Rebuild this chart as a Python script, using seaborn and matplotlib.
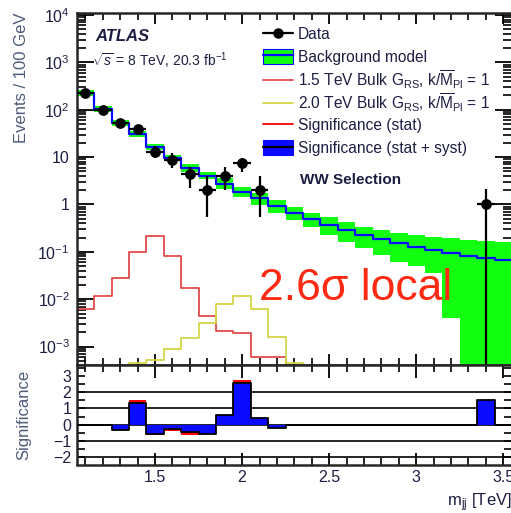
import numpy as np
import pandas as pd
import matplotlib
matplotlib.use("Agg")
import matplotlib.pyplot as plt
import seaborn as sns
from matplotlib.lines import Line2D
from matplotlib.patches import Patch
from matplotlib.ticker import FixedLocator, MultipleLocator, NullFormatter, FixedFormatter

# ---------------- data ----------------
bin_centers = [1.1, 1.2, 1.3, 1.4, 1.5, 1.6, 1.7, 1.8, 1.9, 2.0, 2.1, 2.2, 2.3,
               2.4, 2.5, 2.6, 2.7, 2.8, 2.9, 3.0, 3.1, 3.2, 3.3, 3.4, 3.5]
bin_width = 0.1

bkg = [229, 105, 53, 31, 16.5, 9.7, 5.9, 4.0, 2.7, 1.85, 1.38, 0.93, 0.66,
       0.50, 0.37, 0.29, 0.23, 0.19, 0.155, 0.127, 0.11, 0.095, 0.082, 0.074, 0.068]
bkg_hi = [265, 122, 61.5, 36, 19.1, 11.2, 7.2, 4.9, 3.65, 2.35, 1.76, 1.25, 0.89,
          0.66, 0.55, 0.43, 0.336, 0.29, 0.25, 0.228, 0.206, 0.197, 0.179, 0.17, 0.162]
bkg_lo = [198, 91, 46, 27, 14.3, 8.4, 4.9, 3.5, 2.14, 1.45, 0.98, 0.66, 0.47,
          0.336, 0.228, 0.162, 0.121, 0.086, 0.061, 0.05, 0.035, 0.004, 1e-6, 1e-6, 1e-6]

sig15 = [0.0062, 0.012, 0.028, 0.10, 0.22, 0.081, 0.017, 0.0045, 0.0021, 0.0019,
         0.0006, 0.0006, 0, 0, 0, 0, 0, 0, 0, 0, 0, 0, 0, 0, 0]
sig20 = [0, 0, 0, 0.00045, 0.00053, 0.00089, 0.00155, 0.0031, 0.0081, 0.0117,
         0.0062, 0.0016, 0.00046, 0, 0, 0, 0, 0, 0, 0, 0, 0, 0, 0, 0]

data_x = [1.1, 1.2, 1.3, 1.4, 1.5, 1.6, 1.7, 1.8, 1.9, 2.0, 2.1, 3.4]
data_y = [225, 100, 53, 40, 13, 8.7, 4.3, 2.0, 4.0, 7.6, 2.0, 1.0]
data_err_lo = [15, 10, 7, 6.3, 3.6, 2.9, 2.1, 1.45, 2.0, 2.8, 1.45, 1.0]
data_err_hi = [15, 10, 7.5, 6.5, 4.0, 3.4, 2.0, 1.9, 2.2, 2.0, 1.9, 1.1]

signif_stat = [0, 0, -0.3, 1.53, -0.65, -0.37, -0.62, -0.56, 0.62, 2.75, 0.41, -0.2,
               0, 0, 0, 0, 0, 0, 0, 0, 0, 0, 0, 1.5, 0]
signif_syst = [0, 0, -0.3, 1.36, -0.57, -0.25, -0.48, -0.56, 0.62, 2.59, 0.41, -0.2,
               0, 0, 0, 0, 0, 0, 0, 0, 0, 0, 0, 1.5, 0]

y_tick_vals = [1e-3, 1e-2, 1e-1, 1, 10, 1e2, 1e3, 1e4]
y_tick_labels = [r"$10^{-3}$", r"$10^{-2}$", r"$10^{-1}$", "1", "10",
                 r"$10^{2}$", r"$10^{3}$", r"$10^{4}$"]
x_tick_vals = [1.5, 2.0, 2.5, 3.0, 3.5]
x_tick_labels = ["1.5", "2", "2.5", "3", "3.5"]
sig_tick_vals = [-2, -1, 0, 1, 2, 3]
sig_tick_labels = ["\u22122", "\u22121", "0", "1", "2", "3"]

legend_labels = [
    "Data",
    "Background model",
    r"1.5 TeV Bulk G$_{\mathrm{RS}}$, k/$\overline{\mathrm{M}}_{\mathrm{Pl}}$ = 1",
    r"2.0 TeV Bulk G$_{\mathrm{RS}}$, k/$\overline{\mathrm{M}}_{\mathrm{Pl}}$ = 1",
    "Significance (stat)",
    "Significance (stat + syst)",
]

hist_df = pd.DataFrame({"m": bin_centers, "bkg": bkg, "sig15": sig15, "sig20": sig20,
                        "s_syst": signif_syst, "s_stat": signif_stat})

# ---------------- style ----------------
sns.set_style("ticks")
plt.rcParams["font.family"] = ["Liberation Sans", "DejaVu Sans"]
plt.rcParams["mathtext.fontset"] = "custom"
plt.rcParams["mathtext.rm"] = "Liberation Sans"
plt.rcParams["mathtext.it"] = "Liberation Sans:italic"
plt.rcParams["mathtext.bf"] = "Liberation Sans:bold"

TXT = "#1e1e44"
LAB = "#4d5b7a"
GREEN = "#12ff12"
BLUE = "#0a0aff"
RED_SIG = "#e04a4a"
YELLOW = "#d4d44a"

edges_arr = np.concatenate([np.array(bin_centers) - bin_width / 2,
                            [bin_centers[-1] + bin_width / 2]])
edges = [float(e) for e in edges_arr]

fig = plt.figure(figsize=(5.11, 5.13), dpi=100)
W, H = 511.0, 513.0
left_px, right_px = 76.7, 512.0
top_px, mid_px, bot_px = 13.0, 364.5, 464.5
ax = fig.add_axes([left_px / W, 1 - mid_px / H, (right_px - left_px) / W, (mid_px - top_px) / H])
ax2 = fig.add_axes([left_px / W, 1 - bot_px / H, (right_px - left_px) / W, (bot_px - mid_px) / H],
                   sharex=ax)

ax.set_yscale("log")

# background band
ax.stairs(bkg_hi, edges_arr, baseline=bkg_lo, fill=True, color=GREEN, lw=0, zorder=1)
# background line
sns.histplot(data=hist_df, x="m", weights="bkg", bins=edges, element="step", fill=False,
             color=BLUE, lw=1.6, ax=ax, zorder=3)
# signals
sns.histplot(data=hist_df, x="m", weights="sig15", bins=edges, element="step", fill=False,
             color=RED_SIG, lw=1.3, ax=ax, zorder=2)
sns.histplot(data=hist_df, x="m", weights="sig20", bins=edges, element="step", fill=False,
             color=YELLOW, lw=1.3, ax=ax, zorder=2)
# data
ax.errorbar(data_x, data_y, yerr=[data_err_lo, data_err_hi], xerr=bin_width / 2,
            fmt="none", ecolor="black", elinewidth=1.6, capsize=0, zorder=5)
sns.scatterplot(x=data_x, y=data_y, color="black", s=60, edgecolor="black",
                linewidth=0, ax=ax, zorder=6)

ax.set_xlim(edges[0], edges[-1])
ax.set_ylim(4.2e-4, 1.1e4)
ax.set_xlabel("")
ax.set_ylabel("")

ax.yaxis.set_major_locator(FixedLocator(y_tick_vals))
ax.yaxis.set_major_formatter(FixedFormatter(y_tick_labels))
ax.yaxis.set_minor_locator(matplotlib.ticker.LogLocator(base=10, subs=np.arange(2, 10), numticks=20))
ax.yaxis.set_minor_formatter(NullFormatter())
ax.xaxis.set_major_locator(FixedLocator(x_tick_vals))
ax.xaxis.set_minor_locator(MultipleLocator(0.1))
ax.tick_params(axis="both", which="both", direction="in", top=True, right=True,
               labelbottom=False, colors="black", labelcolor=TXT)
ax.tick_params(axis="y", which="major", length=12, width=1.3, labelsize=11.5, pad=5)
ax.tick_params(axis="y", which="minor", length=6.5, width=1.2)
ax.tick_params(axis="x", which="major", length=8, width=1.3)
ax.tick_params(axis="x", which="minor", length=5, width=1.2)
for s in ax.spines.values():
    s.set_linewidth(1.8)

ax.set_ylabel("Events / 100 GeV", fontsize=12, color=LAB, loc="top")
ax.yaxis.set_label_coords((29 - left_px) / (right_px - left_px), 1.0)

# annotations
ax.text((95 - left_px) / (right_px - left_px), 1 - (37 - top_px) / (mid_px - top_px), "ATLAS",
        transform=ax.transAxes, fontsize=12, fontweight="bold", fontstyle="italic",
        color=TXT, va="center", ha="left")
ax.text((92 - left_px) / (right_px - left_px), 1 - (61 - top_px) / (mid_px - top_px),
        r"$\sqrt{s}$ = 8 TeV, 20.3 fb$^{-1}$",
        transform=ax.transAxes, fontsize=10, color=TXT, va="center", ha="left")
ax.text((300 - left_px) / (right_px - left_px), 1 - (180 - top_px) / (mid_px - top_px),
        "WW Selection", transform=ax.transAxes, fontsize=11, fontweight="bold",
        color=TXT, va="center", ha="left")
ax.text((259 - left_px) / (right_px - left_px), 1 - (289 - top_px) / (mid_px - top_px),
        "2.6\u03c3 local", transform=ax.transAxes, fontsize=32,
        color="#ff2a14", va="center", ha="left")

# legend: one row per entry, evenly spaced
handles = [
    Line2D([0], [0], color="black", marker="o", lw=1.6, ms=6.5),
    (Patch(facecolor=GREEN, edgecolor=BLUE, lw=0.8), Line2D([0], [0], color=BLUE, lw=1.6)),
    Line2D([0], [0], color=RED_SIG, lw=1.3),
    Line2D([0], [0], color=YELLOW, lw=1.3),
    Line2D([0], [0], color="#ff0000", lw=1.3),
    (Patch(facecolor=BLUE, edgecolor=BLUE, lw=0.8), Line2D([0], [0], color="black", lw=1.6)),
]
row_top_px, row_pitch_px = 34.0, 22.8
for i, (hnd, lab) in enumerate(zip(handles, legend_labels)):
    yc = row_top_px + i * row_pitch_px
    lg = fig.legend([hnd], [lab], loc="center left", bbox_to_anchor=(263 / W, 1 - yc / H),
                    frameon=False, borderpad=0, borderaxespad=0, handlelength=1.9,
                    handleheight=1.1, handletextpad=0.35, fontsize=11.2)
    for t in lg.get_texts():
        t.set_color(TXT)

# ---------------- significance panel ----------------
for yv in [-2, -1, 0, 1, 2]:
    ax2.axhline(yv, color="black", lw=1.2, zorder=0)
ax2.bar(bin_centers, signif_stat, width=bin_width, color="#ff0000", lw=0, zorder=2)
ax2.bar(bin_centers, signif_syst, width=bin_width, color=BLUE, lw=0, zorder=3)
sns.histplot(data=hist_df, x="m", weights="s_syst", bins=edges, element="step", fill=False,
             color="black", lw=1.3, ax=ax2, zorder=4)
ax2.set_ylim(-2.45, 3.7)
ax2.set_xlim(edges[0], edges[-1])
ax2.yaxis.set_major_locator(FixedLocator(sig_tick_vals))
ax2.yaxis.set_major_formatter(FixedFormatter(sig_tick_labels))
ax2.yaxis.set_minor_locator(MultipleLocator(0.5))
ax2.xaxis.set_major_locator(FixedLocator(x_tick_vals))
ax2.xaxis.set_major_formatter(FixedFormatter(x_tick_labels))
ax2.xaxis.set_minor_locator(MultipleLocator(0.1))
ax2.tick_params(axis="both", which="both", direction="in", top=True, right=True,
                colors="black", labelcolor=TXT)
ax2.tick_params(axis="y", which="major", length=6, width=1.2, labelsize=11.5, pad=4)
ax2.tick_params(axis="y", which="minor", length=6, width=1.2)
ax2.tick_params(axis="x", which="major", length=9, width=1.3, labelsize=11.5, pad=4)
ax2.tick_params(axis="x", which="minor", length=5, width=1.2)
for s in ax2.spines.values():
    s.set_linewidth(1.8)
ax2.set_ylabel("Significance", fontsize=12, color=LAB)
ax2.yaxis.set_label_coords((31 - left_px) / (right_px - left_px), 0.5)
ax2.set_xlabel(r"m$_{\mathrm{jj}}$ [TeV]", fontsize=12, color=TXT, loc="right")
ax2.xaxis.set_label_coords(1.0, -(491 - bot_px) / (bot_px - mid_px))

fig.savefig("out.png", dpi=100)
